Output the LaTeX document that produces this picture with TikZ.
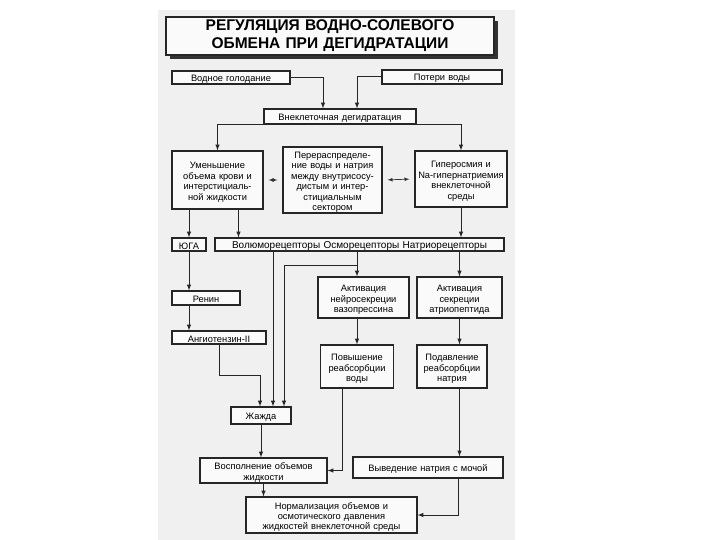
\documentclass[tikz,border=0pt]{standalone}
\usepackage{fontspec}
\setmainfont{Liberation Sans}
\usetikzlibrary{shadows}
\tikzset{
  box/.style={draw=black!85, line width=1.2pt, fill=gray!4, align=center,
    inner xsep=2pt, inner ysep=0pt, font=\fontsize{9.3}{10.4}\selectfont},
  multi/.style={execute at begin node={\rule{0pt}{11pt}}},
  one/.style={execute at begin node={\rule{0pt}{9.5pt}}},
  arr/.style={->, line width=1pt, draw=black!85},
  twoway/.style={<->, line width=0.7pt, draw=black!80, shorten >=5pt, shorten <=5pt},
}
\begin{document}
\begin{tikzpicture}[>=latex, x=1pt, y=-1pt]
\useasboundingbox (0,0) rectangle (720,540);
\fill[gray!12] (158,10) rectangle (515,540);
% title
\node[box, text width=324pt, minimum height=38, font=\fontsize{15.5}{18}\selectfont\bfseries,
  drop shadow={shadow xshift=4pt, shadow yshift=-4pt, fill=black!80, opacity=1}] (title) at (330,36)
  {РЕГУЛЯЦИЯ ВОДНО-СОЛЕВОГО\\ОБМЕНА ПРИ ДЕГИДРАТАЦИИ};
% top row
\node[box, one, text width=114pt, minimum height=13] (voda) at (231,77.5) {Водное голодание};
\node[box, one, text width=116pt, minimum height=14] (poteri) at (442,77) {Потери воды};
\node[box, one, text width=148pt, minimum height=15] (ext) at (340,116.5) {Внеклеточная дегидратация};
% second row
\node[box, multi, text width=87pt, minimum height=58] (blood) at (217.5,180)
  {Уменьшение\\объема крови и\\интерстициаль-\\ной жидкости};
\node[box, multi, text width=95pt, minimum height=66] (redist) at (332.5,180)
  {Перераспределе-\\ние воды и натрия\\между внутрисосу-\\дистым и интер-\\стициальным\\сектором};
\node[box, multi, text width=88pt, minimum height=56] (hyper) at (461,179)
  {Гиперосмия и\\Na-гипернатриемия\\внеклеточной\\среды};
% receptors
\node[box, one, text width=30pt, minimum height=13] (juga) at (189,244.5) {ЮГА};
\node[box, one, text width=285pt, minimum height=13, font=\fontsize{10}{11}\selectfont] (recept) at (359.5,244.5)
  {Волюморецепторы Осморецепторы Натриорецепторы};
% left column
\node[box, one, text width=64pt, minimum height=14] (renin) at (206,298) {Ренин};
\node[box, one, text width=90pt, minimum height=13] (angio) at (219,337.5) {Ангиотензин-II};
% right column
\node[box, multi, text width=87pt, minimum height=41] (vaso) at (363.5,297.5)
  {Активация\\нейросекреции\\вазопрессина};
\node[box, multi, text width=81pt, minimum height=41] (atrio) at (459.5,297.5)
  {Активация\\секреции\\атриопептида};
\node[box, multi, text width=69pt, minimum height=43] (reabw) at (357,366.5)
  {Повышение\\реабсорбции\\воды};
\node[box, multi, text width=66pt, minimum height=43] (reabna) at (452,366.5)
  {Подавление\\реабсорбции\\натрия};
% bottom
\node[box, one, text width=56pt, minimum height=17] (thirst) at (261,415.5) {Жажда};
\node[box, multi, text width=123pt, minimum height=25] (refill) at (263.5,470.5)
  {Восполнение объемов\\жидкости};
\node[box, one, text width=146pt, minimum height=21] (excr) at (428,467.5) {Выведение натрия с мочой};
\node[box, multi, text width=167pt, minimum height=36] (norm) at (331.5,515)
  {Нормализация объемов и\\осмотического давления\\жидкостей внеклеточной среды};
\coordinate (fork) at (357,265);
% connectors
\draw[arr] (voda.east) -| ([xshift=-17pt]ext.north);
\draw[arr] (poteri.west) -| ([xshift=17pt]ext.north);
\draw[arr] (ext.south) -| (blood.north);
\draw[arr] (ext.south) -| (hyper.north);
\draw[twoway] (blood.east) -- (redist.west);
\draw[twoway] (redist.east) -- (hyper.west);
\draw[arr] (juga.north |- blood.south) -- (juga.north);
\draw[arr] ([xshift=21pt]blood.south) -- ([xshift=21pt]blood.south |- recept.north);
\draw[arr] (hyper.south) -- (hyper.south |- recept.north);
\draw[arr] (juga.south) -- (juga.south |- renin.north);
\draw[arr] (juga.south |- renin.south) -- (juga.south |- angio.north);
\draw[arr] (angio.south) -- ++(0,31) -| ([xshift=-1pt]thirst.north);
\draw[arr] ([xshift=12pt]thirst.north |- recept.south) -- ([xshift=12pt]thirst.north);
\draw[arr] (reabw.north |- recept.south) -- (reabw.north |- vaso.north);
\draw[arr] (fork) -| ([xshift=23pt]thirst.north);
\draw[arr] (atrio.north |- recept.south) -- (atrio.north);
\draw[arr] (reabw.north |- vaso.south) -- (reabw.north);
\draw[arr] (atrio.south) -- (atrio.south |- reabna.north);
\draw[arr] (atrio.south |- reabna.south) -- (atrio.south |- excr.north);
\draw[arr] ([xshift=-15pt]reabw.south) |- (refill.east);
\draw[arr] (thirst.south) -- (thirst.south |- refill.north);
\draw[arr] (refill.south) -- (refill.south |- norm.north);
\draw[arr] ([xshift=30pt]excr.south) |- (norm.east);
\end{tikzpicture}
\end{document}
